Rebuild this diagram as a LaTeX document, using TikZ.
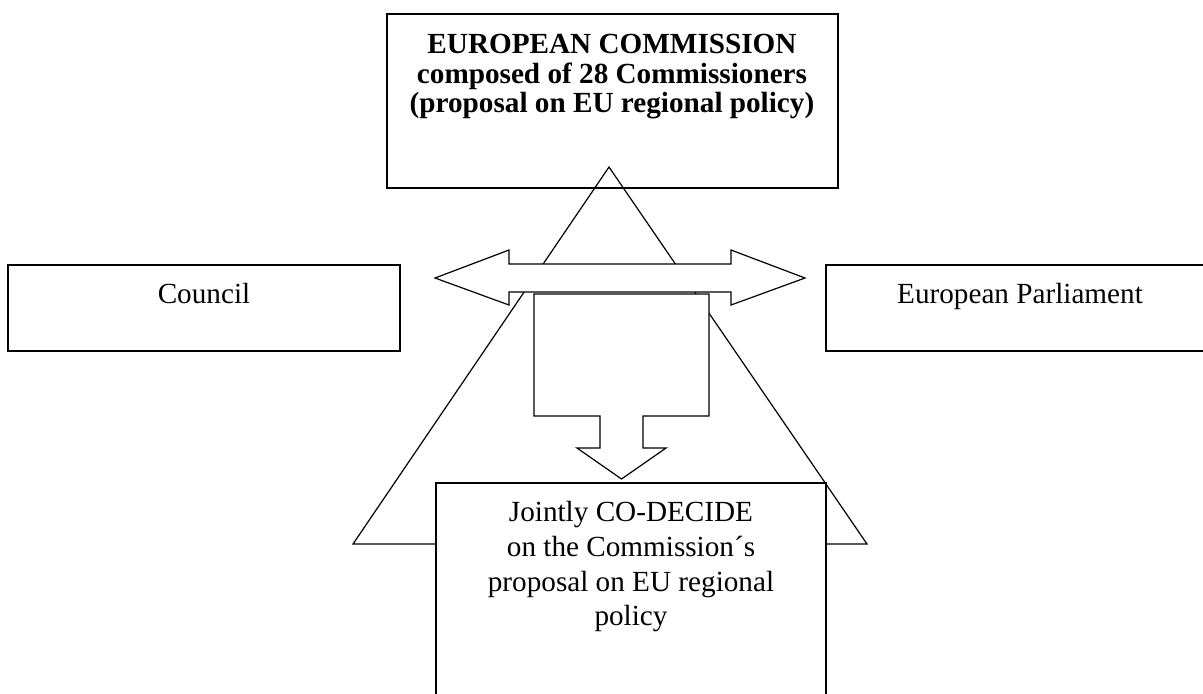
\documentclass[tikz,border=0pt]{standalone}
\usepackage{fontspec}
\setmainfont{Liberation Serif}
\begin{document}
\begin{tikzpicture}[x=0.5pt,y=-0.5pt,
  line join=miter,
  box/.style={draw=black,line width=0.65pt,fill=white,rectangle,inner sep=0pt,outer sep=0pt},
  shape line/.style={draw=black,line width=0.6pt},
  lbl/.style={anchor=base,inner sep=0pt,font=\fontsize{14.6pt}{17pt}\selectfont},
  blbl/.style={lbl,font=\fontsize{14.6pt}{17pt}\selectfont\bfseries}]
\useasboundingbox (0,0) rectangle (1203,693);
% boxes
\node[box,minimum width=225.5pt,minimum height=87pt] (ec) at (612.5,101) {};
\node[blbl] (ec1) at (612,53) {EUROPEAN COMMISSION};
\node[blbl] (ec2) at (612,83) {composed of 28 Commissioners};
\node[blbl] (ec3) at (612,112) {(proposal on EU regional policy)};
% triangle
\coordinate (ta) at (609,167);
\coordinate (tl) at (353,544);
\coordinate (tr) at (867,544);
\draw[shape line] (tl) -- (ta) -- (tr) -- cycle;
% side boxes
\node[box,minimum width=196pt,minimum height=43pt] (council) at (204,308) {};
\node[lbl] (councilt) at (204,303) {Council};
\node[box,minimum width=194pt,minimum height=43pt] (ep) at (1020,308) {};
\node[lbl] (ept) at (1020,303) {European Parliament};
% double arrow
\coordinate (dl) at (435,278);
\coordinate (dr) at (805,278);
\draw[shape line,fill=white] (dl) -- (509,250) -- (509,264) -- (731,264) -- (731,250) -- (dr)
  -- (731,305) -- (731,292) -- (509,292) -- (509,305) -- cycle;
% down arrow callout
\coordinate (dtip) at (621.5,479);
\draw[shape line,fill=white] (534,294) -- (709,294) -- (709,416) -- (643,416) -- (643,448)
  -- (666,448) -- (dtip) -- (577,448) -- (600,448) -- (600,416) -- (534,416) -- cycle;
% bottom box
\node[box,minimum width=195pt,minimum height=138.5pt] (cod) at (631,621.5) {};
\node[lbl] (cod1) at (631,521) {Jointly CO-DECIDE};
\node[lbl] (cod2) at (631,556) {on the Commission´s};
\node[lbl] (cod3) at (631,591) {proposal on EU regional};
\node[lbl] (cod4) at (631,625) {policy};
\end{tikzpicture}
\end{document}
